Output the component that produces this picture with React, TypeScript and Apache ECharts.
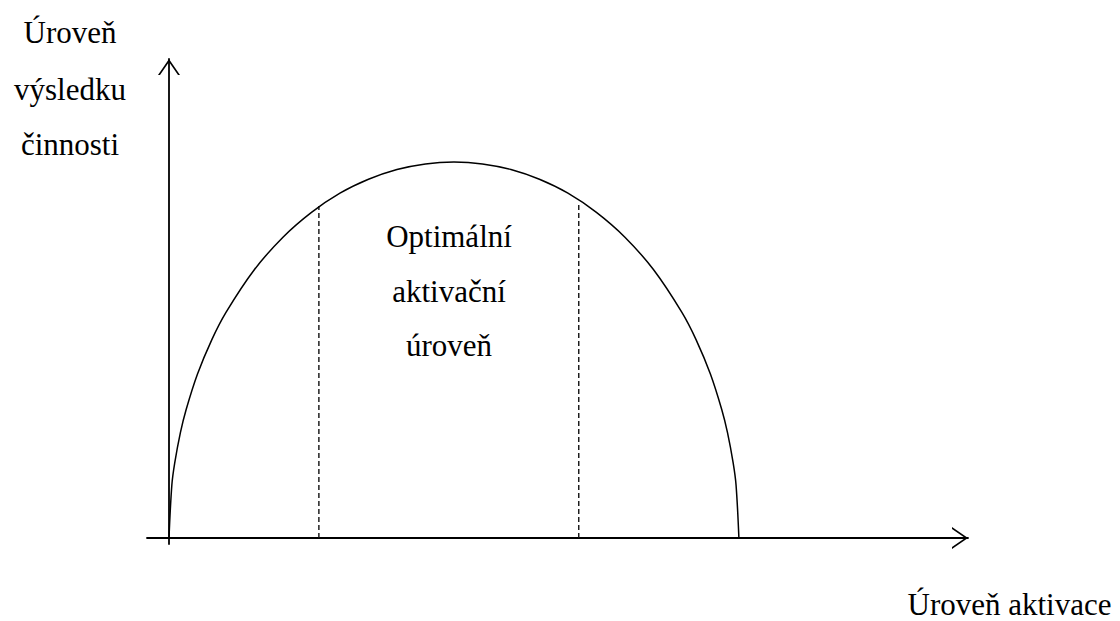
import React, { useEffect, useRef } from "react";
import * as echarts from "echarts";

// Curve (activation level vs. performance)
const curveX = [0, 0.5, 1, 2, 3, 5, 7.5, 10, 15, 20, 25, 30, 35, 40, 45, 50, 55, 60, 65, 70, 75, 80, 85, 90, 92.5, 95, 97, 98, 99, 99.5, 100];
const curveY = [0, 14.1, 19.9, 28.0, 34.1, 43.6, 52.7, 60.0, 71.4, 80.0, 86.6, 91.7, 95.4, 98.0, 99.5, 100, 99.5, 98.0, 95.4, 91.7, 86.6, 80.0, 71.4, 60.0, 52.7, 43.6, 34.1, 28.0, 19.9, 14.1, 0];

// Optimal activation zone bounds
const optimalX = [26.3, 71.9];
const optimalTop = [88.3, 88.6];

// Axis extents
const xMin = -3.86;
const xMax = 140.2;
const yMin = -1.6;
const yMax = 127.4;

// Texts
const yTitleLines = ["Úroveň", "výsledku", "činnosti"];
const xTitle = "Úroveň aktivace";
const zoneLines = ["Optimální", "aktivační", "úroveň"];

const FONT = "'Liberation Serif', 'Times New Roman', serif";
const CHEVRON = "path://M11,0L22,16L20,16L11,2.9L2,16L0,16Z";

export default function App() {
  const ref = useRef<HTMLDivElement>(null);

  useEffect(() => {
    if (!ref.current) return;
    const chart = echarts.init(ref.current, null, { renderer: "svg" });

    const textEl = (t: string, x: number, y: number) => ({
      type: "text",
      x,
      y,
      style: {
        text: t,
        fill: "#000",
        font: `31px ${FONT}`,
        textAlign: "center",
        textVerticalAlign: "middle",
      },
    });

    const yTitleY = [32.5, 89.5, 144.5];
    const zoneY = [236.5, 291.5, 345.5];

    const graphics: any[] = [];
    yTitleLines.forEach((t, i) => graphics.push(textEl(t, 70, yTitleY[i])));
    zoneLines.forEach((t, i) => graphics.push(textEl(t, 449, zoneY[i])));
    graphics.push(textEl(xTitle, 1009.5, 604.5));

    const axisCommon = {
      type: "value",
      axisTick: { show: false },
      axisLabel: { show: false },
      splitLine: { show: false },
      axisLine: {
        show: true,
        onZero: true,
        symbol: ["none", CHEVRON],
        symbolSize: [22, 16],
        symbolOffset: [0, -8],
        lineStyle: { color: "#000", width: 1.8 },
      },
    };

    const dashSeries = optimalX.map((x, i) => ({
      type: "line",
      data: [
        [x, 0],
        [x, optimalTop[i]],
      ],
      symbol: "none",
      silent: true,
      lineStyle: { color: "#111", width: 1.4, type: [5, 3] },
      z: 3,
    }));

    chart.setOption({
      animation: false,
      backgroundColor: "#fff",
      grid: { left: 147, right: 152, top: 59, bottom: 77, containLabel: false },
      xAxis: { ...axisCommon, min: xMin, max: xMax },
      yAxis: { ...axisCommon, min: yMin, max: yMax },
      series: [
        {
          type: "line",
          data: curveX.map((x, i) => [x, curveY[i]]),
          symbol: "none",
          smooth: 0.35,
          lineStyle: { color: "#000", width: 1.5 },
          z: 4,
        },
        ...dashSeries,
      ],
      graphic: graphics,
    });

    return () => chart.dispose();
  }, []);

  return (
    <div
      ref={ref}
      style={{ position: "absolute", left: 0, top: 0, width: 1120, height: 621, background: "#fff" }}
    />
  );
}
